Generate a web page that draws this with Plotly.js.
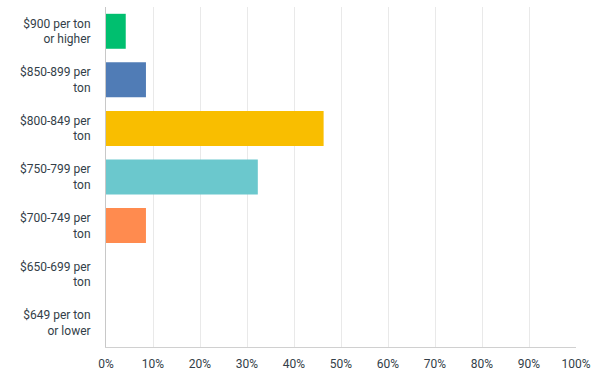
<!DOCTYPE html>
<html><head><meta charset="utf-8">
<script src="https://cdn.plot.ly/plotly-3.0.1.min.js"></script>
<style>html,body{margin:0;padding:0;background:#fff}#chart{width:601px;height:376px}</style>
</head><body><div id="chart"></div>
<script>
const categories = [
  "$900 per ton<br>or higher",
  "$850-899 per<br>ton",
  "$800-849 per<br>ton",
  "$750-799 per<br>ton",
  "$700-749 per<br>ton",
  "$650-699 per<br>ton",
  "$649 per ton<br>or lower"
];
const values = [4.2, 8.5, 46.3, 32.3, 8.5, 0, 0];
const colors = ["#00bf6f", "#507cb6", "#f9be00", "#6bc8cd", "#ff8b4f", "#7f7fff", "#a0a0a0"];
const tickVals = [0,10,20,30,40,50,60,70,80,90,100];
const tickText = ["0%","10%","20%","30%","40%","50%","60%","70%","80%","90%","100%"];

const trace = {
  type: "bar",
  orientation: "h",
  x: values,
  y: categories,
  marker: {color: colors},
  hoverinfo: "none"
};
const layout = {
  width: 601, height: 376,
  margin: {l: 106, r: 25, t: 7, b: 29},
  paper_bgcolor: "#fff", plot_bgcolor: "#fff",
  bargap: 0.28,
  showlegend: false,
  font: {family: "Roboto, 'Open Sans', sans-serif", size: 12, color: "#333e48"},
  xaxis: {
    range: [0, 100], tickvals: tickVals, ticktext: tickText,
    showgrid: true, gridcolor: "#e9e9e9", gridwidth: 1,
    zeroline: false, showline: true, linecolor: "#d0d0d0", linewidth: 1,
    ticks: "outside", ticklen: 6, tickcolor: "rgba(0,0,0,0)",
    tickfont: {size: 12, color: "#333e48"}, fixedrange: true
  },
  yaxis: {
    categoryorder: "array", categoryarray: categories.slice().reverse(),
    autorange: "reversed",
    showgrid: false, zeroline: false,
    showline: true, linecolor: "#c8c8c8", linewidth: 1,
    ticks: "outside", ticklen: 12, tickcolor: "rgba(0,0,0,0)",
    tickfont: {size: 12, color: "#333e48"}, fixedrange: true
  }
};
layout.yaxis.categoryarray = categories;
layout.yaxis.autorange = "reversed";
Plotly.newPlot("chart", [trace], layout, {displayModeBar: false, staticPlot: true});
</script></body></html>
